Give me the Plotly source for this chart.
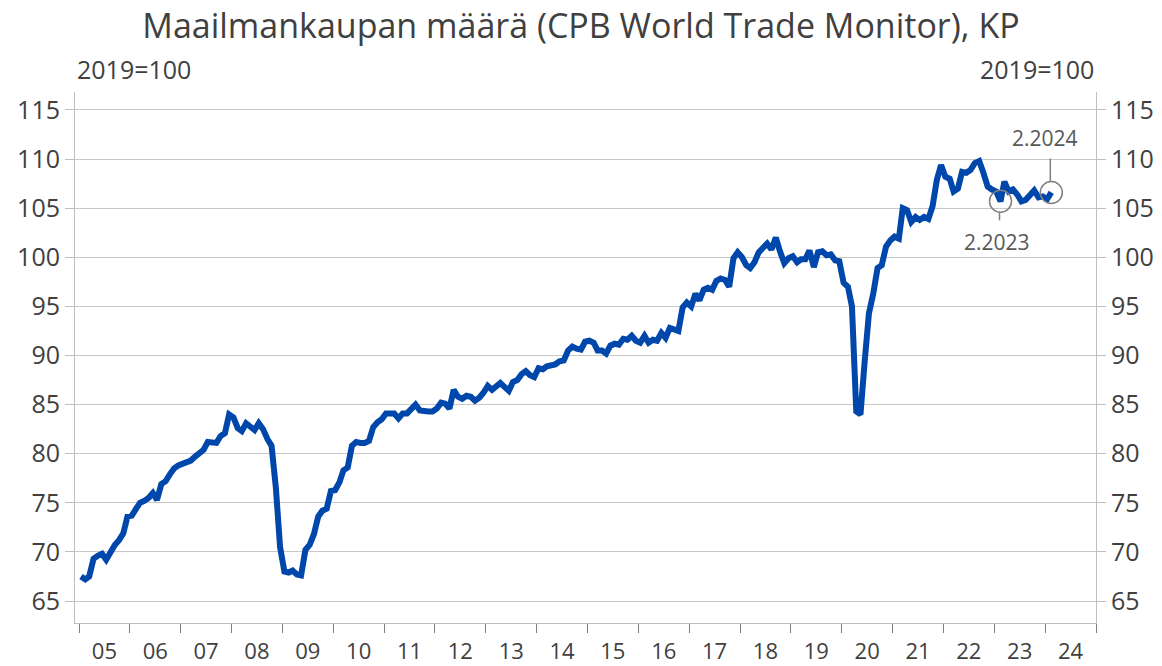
import pandas as pd
import plotly.graph_objects as go

# CPB World Trade Monitor, maailmankaupan maara, kausitasoitettu, 2019=100
v2005 = [67.5, 67.2, 67.5, 69.3, 69.6, 69.8, 69.2, 70.1, 70.7, 71.2, 71.9, 73.6]
v2006 = [73.7, 74.4, 75.0, 75.2, 75.5, 76.0, 75.3, 76.9, 77.2, 77.9, 78.5, 78.8]
v2007 = [79.0, 79.25, 79.3, 79.7, 80.0, 80.4, 81.2, 81.2, 81.1, 81.8, 82.1, 84.0]
v2008 = [83.7, 82.6, 82.3, 83.1, 82.8, 82.4, 83.1, 82.5, 81.5, 80.8, 76.5, 70.5]
v2009 = [68.0, 67.9, 68.1, 67.7, 67.6, 70.2, 70.7, 71.8, 73.6, 74.2, 74.4, 76.2]
v2010 = [76.3, 77.1, 78.3, 78.6, 80.8, 81.2, 81.1, 81.1, 81.3, 82.7, 83.2, 83.5]
v2011 = [84.1, 84.1, 84.1, 83.6, 84.1, 84.1, 84.6, 85.0, 84.4, 84.3, 84.3, 84.3]
v2012 = [84.6, 85.2, 85.1, 84.6, 86.5, 85.8, 85.6, 85.9, 85.8, 85.4, 85.7, 86.2]
v2013 = [86.9, 86.5, 86.9, 87.2, 86.8, 86.4, 87.3, 87.5, 88.1, 88.4, 88.0, 87.8]
v2014 = [88.7, 88.6, 88.9, 89.0, 89.1, 89.4, 89.5, 90.5, 90.9, 90.7, 90.6, 91.4]
v2015 = [91.5, 91.3, 90.5, 90.5, 90.2, 91.0, 91.2, 91.1, 91.7, 91.6, 92.0, 91.5]
v2016 = [91.3, 92.0, 91.3, 91.6, 91.5, 92.3, 91.8, 92.8, 92.7, 92.5, 94.9, 95.4]
v2017 = [95.0, 96.3, 95.6, 96.7, 96.9, 96.7, 97.6, 97.85, 97.7, 97.0, 99.9, 100.5]
v2018 = [100.0, 99.2, 98.9, 99.5, 100.5, 100.9, 101.4, 100.8, 102.0, 100.6, 99.4, 99.9]
v2019 = [100.1, 99.5, 99.8, 99.8, 100.7, 99.0, 100.5, 100.6, 100.2, 100.3, 99.7, 99.6]
v2020 = [97.4, 97.0, 95.0, 84.3, 84.0, 89.5, 94.3, 96.3, 98.9, 99.2, 101.1, 101.7]
v2021 = [102.1, 101.9, 105.0, 104.8, 103.6, 104.1, 103.8, 104.1, 103.9, 105.2, 107.9, 109.4]
v2022 = [108.2, 108.0, 106.7, 107.0, 108.7, 108.6, 108.9, 109.6, 109.8, 108.6, 107.2, 106.9]
v2023 = [106.7, 105.7, 107.7, 106.7, 106.9, 106.4, 105.7, 105.85, 106.25, 106.8, 106.1, 106.2]
v2024 = [105.9, 106.6]

arvot = (v2005 + v2006 + v2007 + v2008 + v2009 + v2010 + v2011 + v2012 + v2013 + v2014
         + v2015 + v2016 + v2017 + v2018 + v2019 + v2020 + v2021 + v2022 + v2023 + v2024)
kuukaudet = pd.date_range("2005-01-01", periods=len(arvot), freq="MS") + pd.Timedelta(days=14)

merkityt = ["2023-02", "2024-02"]
merkinnat = ["2.2023", "2.2024"]

sininen = "#0047AB"
harmaa = "#404040"
fontti = "Open Sans"

fig = go.Figure()
fig.add_trace(go.Scatter(x=kuukaudet, y=arvot, mode="lines",
                         line=dict(color=sininen, width=6), showlegend=False))
# same series on the right axis, invisible, so that the axis is drawn
fig.add_trace(go.Scatter(x=kuukaudet, y=arvot, mode="lines", yaxis="y2",
                         line=dict(color="rgba(0,0,0,0)", width=0),
                         hoverinfo="skip", showlegend=False))

yrange = [62.76, 116.83]
yakseli = dict(range=yrange, tickvals=list(range(65, 120, 5)), showgrid=True,
               gridcolor="#C8C8C8", gridwidth=1, zeroline=False, showline=True,
               linecolor="#BFBFBF", linewidth=1, ticks="outside", ticklen=9,
               tickcolor="#BFBFBF", automargin=False,
               tickfont=dict(family=fontti, size=25, color=harmaa))

fig.update_layout(
    width=1162, height=666,
    margin=dict(l=75, r=66, t=92, b=43),
    paper_bgcolor="white", plot_bgcolor="white",
    title=dict(text="Maailmankaupan määrä (CPB World Trade Monitor), KP",
               x=0.5, xanchor="center", y=1 - 26 / 666, yanchor="middle",
               font=dict(family=fontti, size=34, color=harmaa)),
    xaxis=dict(type="date", range=["2004-12-03", "2025-01-01"],
               dtick="M12", tick0="2005-01-01", tickformat="%y", ticklabelmode="period",
               showgrid=False, showline=True, linecolor="#BFBFBF", linewidth=1,
               ticks="outside", ticklen=9, tickcolor="#808080", automargin=False,
               tickfont=dict(family=fontti, size=22, color=harmaa)),
    yaxis=yakseli,
    yaxis2=dict(yakseli, overlaying="y", side="right", showgrid=False),
)

fig.add_annotation(text="2019=100", xref="paper", yref="paper", x=0, y=1.043,
                   xanchor="left", yanchor="middle", showarrow=False,
                   font=dict(family=fontti, size=25, color=harmaa))
fig.add_annotation(text="2019=100", xref="paper", yref="paper", x=1, y=1.043,
                   xanchor="right", yanchor="middle", showarrow=False,
                   font=dict(family=fontti, size=25, color=harmaa))

# circles and leader lines round the two marked months
sarja = pd.Series(arvot, index=kuukaudet.strftime("%Y-%m"))
siirrot = {"2023-02": (-4, -41, -11, -19), "2024-02": (-6, 54, 11, 34)}
for kk, teksti in zip(merkityt, merkinnat):
    x0 = kuukaudet[list(sarja.index).index(kk)]
    y0 = sarja[kk]
    dx, dy, l0, l1 = siirrot[kk]
    fig.add_shape(type="circle", xref="x", yref="y", xsizemode="pixel", ysizemode="pixel",
                  xanchor=x0, yanchor=y0, x0=-11, x1=11, y0=-11, y1=11,
                  line=dict(color="#808080", width=1.5))
    fig.add_shape(type="line", xref="x", yref="y", xsizemode="pixel", ysizemode="pixel",
                  xanchor=x0, yanchor=y0, x0=-1, x1=-1, y0=l0, y1=l1,
                  line=dict(color="#808080", width=1.5))
    fig.add_annotation(text=teksti, x=x0, y=y0, xref="x", yref="y", xshift=dx, yshift=dy,
                       showarrow=False, font=dict(family=fontti, size=21, color="#595959"))

# the page has a default body margin; drop it so the figure sits at the corner
fig.write_html("out.html", config={"displayModeBar": False},
               post_script="document.body.style.margin='0';")
